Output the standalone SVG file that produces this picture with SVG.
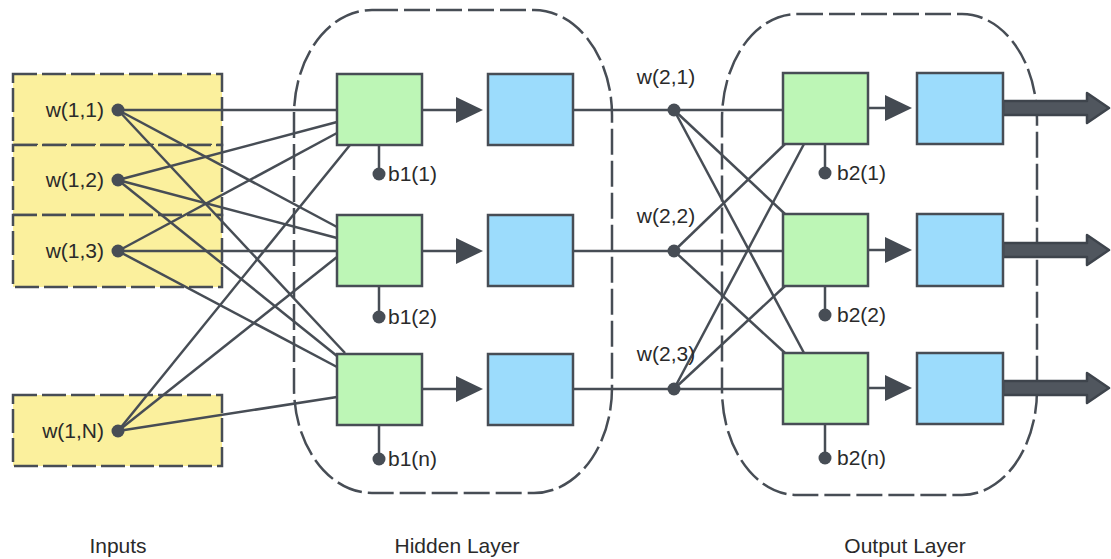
<svg xmlns="http://www.w3.org/2000/svg" width="1111" height="559" viewBox="0 0 1111 559">
<style>
.inbox{fill:#fbf09d;stroke:#474d55;stroke-width:2.5;stroke-dasharray:24 5}
.layer{fill:none;stroke:#474d55;stroke-width:2.5;stroke-dasharray:26 6}
.sum{fill:#bdf6b6;stroke:#474d55;stroke-width:2.5}
.act{fill:#9cdcfc;stroke:#474d55;stroke-width:2.5}
.c{stroke:#474d55;stroke-width:2.5;fill:none}
.dot{fill:#474d55}
.t{font-family:"Liberation Sans",Arial,sans-serif;font-size:21px;fill:#2a2a2a}
.head{fill:#444a52}
.big{fill:#50565e;stroke:#3e444c;stroke-width:2.5;stroke-linejoin:round}
</style>
<rect width="1111" height="559" fill="#ffffff"/>
<g id="layers">
<rect class="layer" x="294" y="10" width="318" height="483" rx="78" ry="105"/>
<rect class="layer" x="722" y="14" width="315" height="481" rx="75" ry="105"/>
</g>
<g id="inputs">
<g id="in1"><rect class="inbox" x="13" y="74" width="209" height="71"/><text class="t" x="104" y="117" text-anchor="end">w(1,1)</text></g>
<g id="in2"><rect class="inbox" x="13" y="145" width="209" height="70"/><text class="t" x="104" y="187" text-anchor="end">w(1,2)</text></g>
<g id="in3"><rect class="inbox" x="13" y="215" width="209" height="72"/><text class="t" x="104" y="258" text-anchor="end">w(1,3)</text></g>
<g id="inN"><rect class="inbox" x="13" y="395" width="209" height="71"/><text class="t" x="104" y="438" text-anchor="end">w(1,N)</text></g>
</g>
<g id="connectors">
<line class="c" x1="118" y1="110" x2="337" y2="110"/>
<line class="c" x1="118" y1="110" x2="337" y2="227"/>
<line class="c" x1="118" y1="110" x2="345" y2="353"/>
<line class="c" x1="118" y1="180" x2="337" y2="122"/>
<line class="c" x1="118" y1="180" x2="337" y2="238"/>
<line class="c" x1="118" y1="180" x2="337" y2="356"/>
<line class="c" x1="118" y1="251" x2="337" y2="133"/>
<line class="c" x1="118" y1="251" x2="337" y2="251"/>
<line class="c" x1="118" y1="251" x2="337" y2="367"/>
<line class="c" x1="118" y1="431" x2="350" y2="145"/>
<line class="c" x1="118" y1="431" x2="337" y2="257"/>
<line class="c" x1="118" y1="431" x2="337" y2="397"/>
<line class="c" x1="573" y1="110" x2="783" y2="110"/>
<line class="c" x1="573" y1="251" x2="783" y2="251"/>
<line class="c" x1="573" y1="389" x2="783" y2="389"/>
<line class="c" x1="674" y1="110" x2="785" y2="214"/>
<line class="c" x1="674" y1="110" x2="804" y2="353"/>
<line class="c" x1="674" y1="251" x2="785" y2="144"/>
<line class="c" x1="674" y1="251" x2="785" y2="353"/>
<line class="c" x1="674" y1="389" x2="804" y2="144"/>
<line class="c" x1="674" y1="389" x2="785" y2="286"/>
<line class="c" x1="379" y1="145" x2="379" y2="174"/>
<line class="c" x1="379" y1="286" x2="379" y2="317"/>
<line class="c" x1="379" y1="425" x2="379" y2="459"/>
<line class="c" x1="825" y1="144" x2="825" y2="173"/>
<line class="c" x1="825" y1="286" x2="825" y2="315"/>
<line class="c" x1="825" y1="424" x2="825" y2="458"/>
<line class="c" x1="422" y1="110" x2="458" y2="110" stroke-width="5"/>
<polygon class="head" points="456,97 483,110 456,123"/>
<line class="c" x1="422" y1="251" x2="458" y2="251" stroke-width="5"/>
<polygon class="head" points="456,238 483,251 456,264"/>
<line class="c" x1="422" y1="389" x2="458" y2="389" stroke-width="5"/>
<polygon class="head" points="456,376 483,389 456,402"/>
<line class="c" x1="868" y1="108" x2="887" y2="108" stroke-width="5"/>
<polygon class="head" points="885,95 912,108 885,121"/>
<line class="c" x1="868" y1="250" x2="887" y2="250" stroke-width="5"/>
<polygon class="head" points="885,237 912,250 885,263"/>
<line class="c" x1="868" y1="388" x2="887" y2="388" stroke-width="5"/>
<polygon class="head" points="885,375 912,388 885,401"/>
<polygon class="big" points="1003,101 1087,101 1087,93 1109,108 1087,123 1087,115 1003,115"/>
<polygon class="big" points="1003,243 1087,243 1087,235 1109,250 1087,265 1087,257 1003,257"/>
<polygon class="big" points="1003,381 1087,381 1087,373 1109,388 1087,403 1087,395 1003,395"/>
</g>
<g id="input-dots">
<circle class="dot" cx="118" cy="110" r="6.5"/>
<circle class="dot" cx="118" cy="180" r="6.5"/>
<circle class="dot" cx="118" cy="251" r="6.5"/>
<circle class="dot" cx="118" cy="431" r="6.5"/>
</g>
<g id="hidden1"><rect class="sum" x="337" y="74" width="85" height="71"/><rect class="act" x="488" y="74" width="85" height="71"/><circle class="dot" cx="379" cy="174" r="6.5"/><text class="t" x="388" y="181">b1(1)</text></g>
<g id="hidden2"><rect class="sum" x="337" y="215" width="85" height="71"/><rect class="act" x="488" y="215" width="85" height="71"/><circle class="dot" cx="379" cy="317" r="6.5"/><text class="t" x="388" y="324">b1(2)</text></g>
<g id="hidden3"><rect class="sum" x="337" y="354" width="85" height="71"/><rect class="act" x="488" y="354" width="85" height="71"/><circle class="dot" cx="379" cy="459" r="6.5"/><text class="t" x="388" y="466">b1(n)</text></g>
<g id="w21"><circle class="dot" cx="674" cy="110" r="6.5"/><text class="t" x="666" y="84" text-anchor="middle">w(2,1)</text></g>
<g id="w22"><circle class="dot" cx="674" cy="251" r="6.5"/><text class="t" x="666" y="223" text-anchor="middle">w(2,2)</text></g>
<g id="w23"><circle class="dot" cx="674" cy="389" r="6.5"/><text class="t" x="666" y="361" text-anchor="middle">w(2,3)</text></g>
<g id="output1"><rect class="sum" x="783" y="73" width="85" height="71"/><rect class="act" x="917" y="73" width="86" height="71"/><circle class="dot" cx="825" cy="173" r="6.5"/><text class="t" x="837" y="180">b2(1)</text></g>
<g id="output2"><rect class="sum" x="783" y="214" width="85" height="72"/><rect class="act" x="917" y="214" width="86" height="72"/><circle class="dot" cx="825" cy="315" r="6.5"/><text class="t" x="837" y="322">b2(2)</text></g>
<g id="output3"><rect class="sum" x="783" y="353" width="85" height="71"/><rect class="act" x="917" y="353" width="86" height="71"/><circle class="dot" cx="825" cy="458" r="6.5"/><text class="t" x="837" y="465">b2(n)</text></g>
<g id="captions">
<text class="t" x="118" y="553" text-anchor="middle">Inputs</text>
<text class="t" x="457" y="553" text-anchor="middle">Hidden Layer</text>
<text class="t" x="905" y="553" text-anchor="middle">Output Layer</text>
</g>
</svg>
